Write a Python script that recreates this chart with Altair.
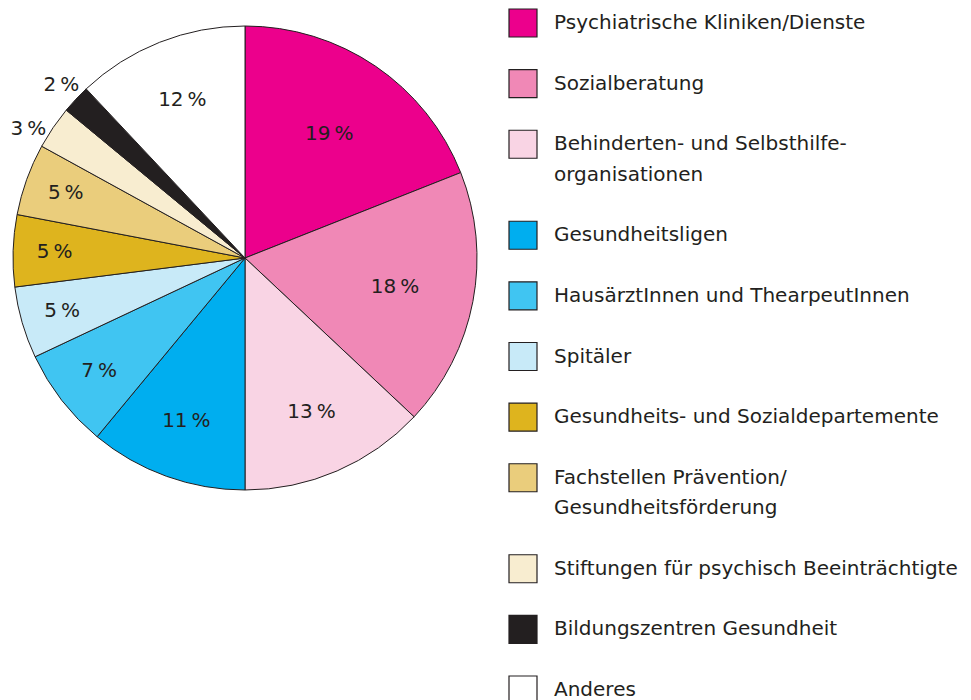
import altair as alt
import pandas as pd

categories = [
    "Psychiatrische Kliniken/Dienste",
    "Sozialberatung",
    "Behinderten- und Selbsthilfe-\norganisationen",
    "Gesundheitsligen",
    "HausärztInnen und ThearpeutInnen",
    "Spitäler",
    "Gesundheits- und Sozialdepartemente",
    "Fachstellen Prävention/\nGesundheitsförderung",
    "Stiftungen für psychisch Beeinträchtigte",
    "Bildungszentren Gesundheit",
    "Anderes",
]
values = [19, 18, 13, 11, 7, 5, 5, 5, 3, 2, 12]
colors = [
    "#EC008C", "#F088B6", "#F9D4E4", "#00AEEF", "#40C5F2", "#C8EAF8",
    "#DEB41E", "#EACD7C", "#F8EDD0", "#231F20", "#FFFFFF",
]

FONT = "DejaVu Sans"
FS = 20
INK = "#231F20"

pie_df = pd.DataFrame({
    "cat": categories,
    "value": values,
    "idx": list(range(len(values))),
    "label": [f"{v}\u2009%" for v in values],
})

# legend rows: each item takes its line count plus one blank row
leg_sq = []
leg_txt = []
row = 0
for i, c in enumerate(categories):
    lines = c.split("\n")
    leg_sq.append({"cat": c, "row": row})
    for j, ln in enumerate(lines):
        leg_txt.append({"line": ln, "row": row + j})
    row += len(lines) + 1
sq_df = pd.DataFrame(leg_sq)
txt_df = pd.DataFrame(leg_txt)

color_scale = alt.Scale(domain=categories, range=colors)
yscale = alt.Scale(domain=[0, 22], range=[15, 682])

CX, CY, R = 237, 250, 232

pie = alt.Chart(pie_df).mark_arc(
    outerRadius=R, stroke=INK, strokeWidth=1
).encode(
    theta=alt.Theta("value:Q", stack=True),
    order=alt.Order("idx:Q"),
    color=alt.Color("cat:N", scale=color_scale, legend=None),
    x=alt.value(CX), y=alt.value(CY),
)

labels = alt.Chart(pie_df).transform_window(
    cum="sum(value)", sort=[alt.SortField("idx")],
    frame=[None, 0],
).transform_joinaggregate(
    total="sum(value)"
).transform_calculate(
    mid="(datum.cum - datum.value / 2) / datum.total * 2 * PI - (datum.value == 3 ? 0.06 : 0)",
    lr="datum.value < 4 ? 252 : 205 - 2.9 * datum.value",
).mark_text(
    font=FONT, fontSize=FS, color=INK, align="center", baseline="middle"
).encode(
    theta=alt.Theta("mid:Q", scale=None, stack=None),
    radius=alt.Radius("lr:Q", scale=None),
    text="label:N",
    x=alt.value(CX), y=alt.value(CY),
)

squares = alt.Chart(sq_df).mark_square(
    size=784, stroke=INK, strokeWidth=1.2, opacity=1
).encode(
    x=alt.value(515),
    y=alt.Y("row:Q", scale=yscale, axis=None),
    color=alt.Color("cat:N", scale=color_scale, legend=None),
)

texts = alt.Chart(txt_df).mark_text(
    font=FONT, fontSize=FS, color=INK, align="left", baseline="middle"
).encode(
    x=alt.value(546),
    y=alt.Y("row:Q", scale=yscale, axis=None),
    text="line:N",
)

chart = alt.layer(pie, labels, squares, texts).properties(
    width=955, height=692,
    autosize=alt.AutoSizeParams(type="none"),
    padding=0,
).configure_view(stroke=None).resolve_scale(color="shared")

chart.save("out.html", embed_options={"renderer": "svg", "actions": False})
